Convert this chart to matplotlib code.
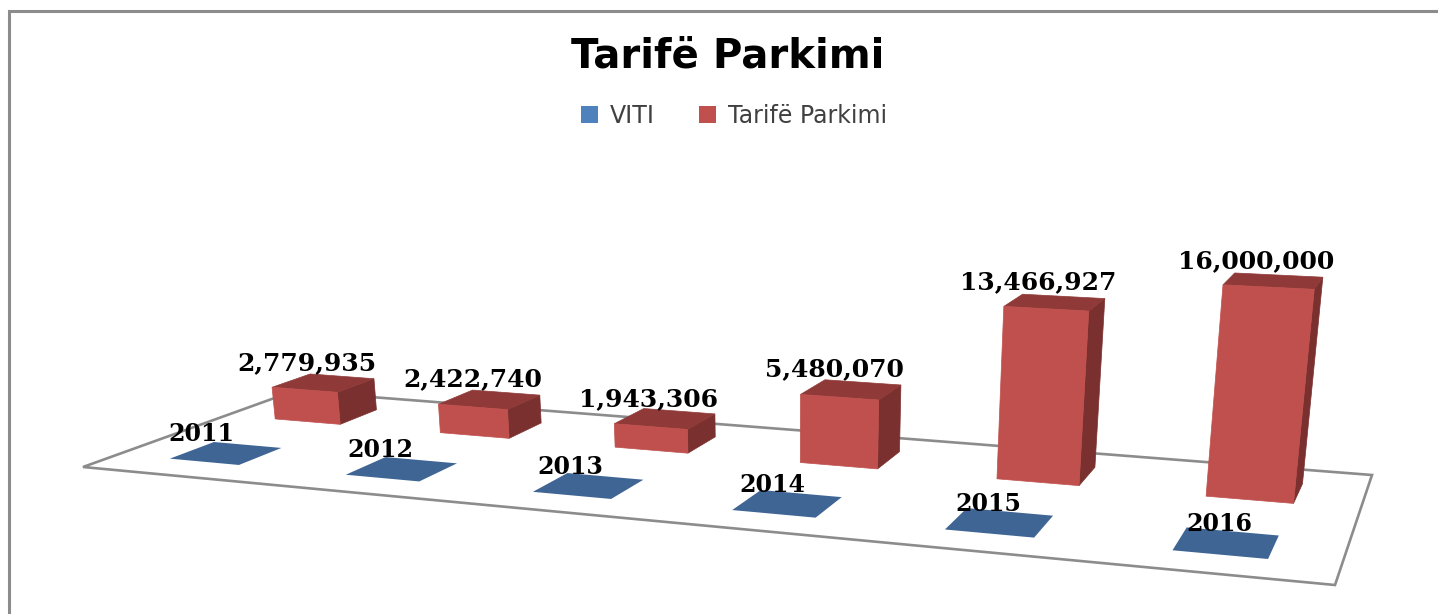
import matplotlib
matplotlib.use('Agg')
import matplotlib.pyplot as plt
from matplotlib.patches import Patch, Polygon

years = ['2011', '2012', '2013', '2014', '2015', '2016']
tarife = [2779935, 2422740, 1943306, 5480070, 13466927, 16000000]

BAR_RED = '#C0504D'
BAR_TOP = '#8F3A38'
BAR_SIDE = '#7A302E'
TILE_BLUE = '#3F6594'
LEGEND_BLUE = '#4F81BD'
LINE_GRAY = '#8C8C8C'

# floor corners in pixels: front left, front right, back right, back left
P00, P10, P11, P01 = (83, 467), (1335, 585), (1372, 475), (294, 391)
VANISH_X = 790
VANISH_DIST = 5200
PX_PER_VALUE = 212 / 1.057 / 16000000


def make_homography():
    dx1, dx2 = P10[0] - P11[0], P01[0] - P11[0]
    dy1, dy2 = P10[1] - P11[1], P01[1] - P11[1]
    sx = P00[0] - P10[0] + P11[0] - P01[0]
    sy = P00[1] - P10[1] + P11[1] - P01[1]
    det = dx1 * dy2 - dx2 * dy1
    g = (sx * dy2 - dx2 * sy) / det
    h = (dx1 * sy - sx * dy1) / det
    return g, h


G, H = make_homography()


def project(u, v, value=0):
    # u runs over the categories (0-6), v over the series rows (0-2)
    a, b = u / len(years), v / 2
    w = 1 / (1 + G * a + H * b)
    x = (a * (P10[0] - P00[0] + G * P10[0]) + b * (P01[0] - P00[0] + H * P01[0]) + P00[0]) * w
    y = (a * (P10[1] - P00[1] + G * P10[1]) + b * (P01[1] - P00[1] + H * P01[1]) + P00[1]) * w
    lift = value * PX_PER_VALUE * w
    return x + lift * (x - VANISH_X) / VANISH_DIST, y - lift


fig = plt.figure(figsize=(14.38, 6.14), dpi=100, facecolor='white')
ax = fig.add_axes([0, 0, 1, 1])
ax.set_xlim(0, 1438)
ax.set_ylim(614, 0)
ax.axis('off')

# chart frame, only left and top show in the crop
ax.plot([9, 9, 1438], [614, 11, 11], color=LINE_GRAY, lw=2.2, solid_joinstyle='miter')

# floor
ax.add_patch(Polygon([P00, P10, P11, P01], closed=True, facecolor='white',
                     edgecolor=LINE_GRAY, lw=1.9, zorder=1))

half = 0.2
for i, year in enumerate(years):
    u0, u1 = i + 0.5 - half, i + 0.5 + half

    # VITI values are tiny on this scale so the bars lie flat on the floor
    tile = [project(u0, 0.3), project(u1, 0.3), project(u1, 0.7), project(u0, 0.7)]
    ax.add_patch(Polygon(tile, closed=True, facecolor=TILE_BLUE, edgecolor='none', zorder=2))
    cx, cy = project(i + 0.5, 0.5)
    ax.text(cx - 15 + (cx - VANISH_X) * 0.018, cy - 19, year, family='DejaVu Serif',
            fontweight='bold', fontsize=17, color='black', ha='center', va='center', zorder=6)

    val = tarife[i]
    v0, v1 = 1.3, 1.7
    front = [project(u0, v0), project(u1, v0), project(u1, v0, val), project(u0, v0, val)]
    side = [project(u1, v0), project(u1, v1), project(u1, v1, val), project(u1, v0, val)]
    top = [project(u0, v0, val), project(u1, v0, val), project(u1, v1, val), project(u0, v1, val)]
    ax.add_patch(Polygon(side, closed=True, facecolor=BAR_SIDE, edgecolor=BAR_SIDE, lw=0.5, zorder=3))
    ax.add_patch(Polygon(top, closed=True, facecolor=BAR_TOP, edgecolor=BAR_TOP, lw=0.5, zorder=3))
    ax.add_patch(Polygon(front, closed=True, facecolor=BAR_RED, edgecolor=BAR_RED, lw=0.5, zorder=4))

    tx, ty = project(i + 0.5, 1.5, val)
    ax.text(tx - 17, ty - 20, f'{val:,}', family='DejaVu Serif', fontweight='bold',
            fontsize=18, color='black', ha='center', va='center', zorder=6)

ax.text(728, 57, 'Tarifë Parkimi', family='DejaVu Sans', fontweight='bold', fontsize=29,
        color='black', ha='center', va='center')

handles = [Patch(facecolor=LEGEND_BLUE, label='VITI'), Patch(facecolor=BAR_RED, label='Tarifë Parkimi')]
ax.legend(handles=handles, ncol=2, frameon=False, loc='center', bbox_to_anchor=(734 / 1438, 1 - 116 / 614),
          prop={'family': 'DejaVu Sans', 'size': 17}, labelcolor='#404040', handlelength=0.7,
          handleheight=0.7, handletextpad=0.5, columnspacing=1.9)

fig.savefig('out.png', dpi=100)
